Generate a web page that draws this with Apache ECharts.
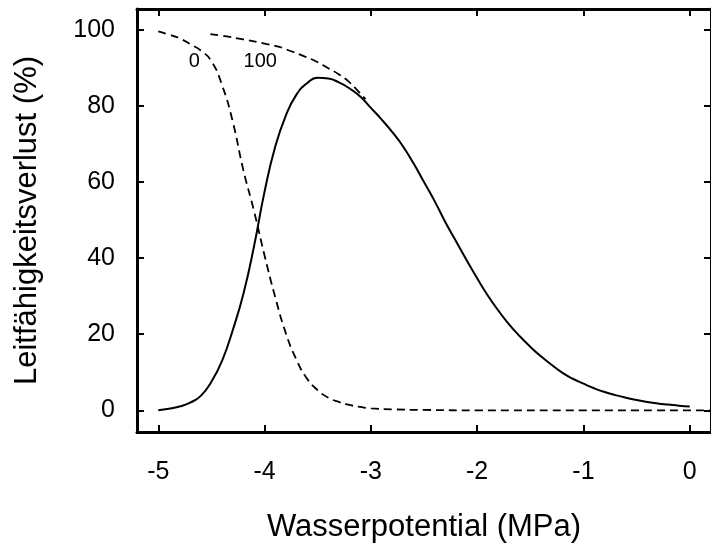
<!DOCTYPE html>
<html>
<head>
<meta charset="utf-8">
<script src="https://cdn.jsdelivr.net/npm/echarts@6/dist/echarts.min.js"></script>
<style>
    html, body { margin: 0; padding: 0; background: #fff; }
    #container { width: 711px; height: 548px; }
</style>
</head>
<body>
<div id="container"></div>
<script>
// Werte: [Wasserpotential (MPa), Verlust (%)]
var lossCurve = [
    [-5.0, 0], [-4.9, 0.4], [-4.8, 1.0], [-4.7, 2.0], [-4.6, 3.8],
    [-4.5, 7.5], [-4.4, 13], [-4.3, 21], [-4.2, 30.5], [-4.1, 43],
    [-4.0, 57.5], [-3.9, 69.3], [-3.8, 77.5], [-3.7, 83], [-3.6, 86],
    [-3.5, 87.4], [-3.4, 87.2], [-3.3, 86.2], [-3.2, 84.6], [-3.1, 82.5],
    [-3.0, 79.5], [-2.9, 76.5], [-2.8, 73.2], [-2.7, 69.5], [-2.6, 65],
    [-2.5, 60], [-2.4, 55], [-2.3, 49.5], [-2.2, 44.5], [-2.1, 39.5],
    [-2.0, 34.7], [-1.9, 30.2], [-1.8, 26.2], [-1.7, 22.6], [-1.6, 19.5],
    [-1.5, 16.7], [-1.4, 14.2], [-1.3, 12], [-1.2, 9.9], [-1.1, 8.3],
    [-1.0, 7], [-0.9, 5.8], [-0.8, 4.8], [-0.7, 4], [-0.6, 3.3],
    [-0.5, 2.7], [-0.4, 2.2], [-0.3, 1.8], [-0.2, 1.5], [-0.1, 1.2], [0, 1.0]
];
var curve0 = [
    [-5.0, 99.6], [-4.9, 98.8], [-4.8, 97.8], [-4.7, 96.3], [-4.6, 94.6],
    [-4.5, 91.8], [-4.4, 85.5], [-4.3, 76], [-4.2, 63.2], [-4.1, 52.5],
    [-4.0, 40.7], [-3.9, 29.8], [-3.8, 20.3], [-3.7, 13.3], [-3.6, 8.3],
    [-3.5, 5.3], [-3.4, 3.3], [-3.3, 2.2], [-3.2, 1.4], [-3.1, 0.9],
    [-3.0, 0.5], [-2.8, 0.25], [-2.5, 0.1], [-2.0, 0], [-1.0, 0], [0.2, 0]
];
var curve100 = [
    [-4.51, 98.9], [-4.4, 98.5], [-4.2, 97.5], [-4.0, 96.4], [-3.87, 95.6],
    [-3.75, 94.4], [-3.62, 93], [-3.5, 91.5], [-3.4, 89.9], [-3.3, 88.3],
    [-3.2, 86.2], [-3.12, 83.9], [-3.05, 81.8]
];
var curveLabels = [
    [-4.66, 91.6, '0'],
    [-4.04, 91.6, '100']
];
var xTicks = [-5, -4, -3, -2, -1, 0];
var yTicks = [0, 20, 40, 60, 80, 100];

(function(){
    var dom = document.getElementById("container");
    var myChart = echarts.init(dom, null, {renderer: 'canvas'});
    var font = 'Liberation Sans, Arial, sans-serif';

    var axisLine = {show: true, onZero: false, lineStyle: {color: '#000', width: 3}};
    var axisTick = {show: true, inside: true, length: 7, lineStyle: {color: '#000', width: 2}};

    var option = {
        animation: false,
        backgroundColor: '#fff',
        grid: {left: 137, right: -4, top: 9, bottom: 116},
        xAxis: [
            {
                type: 'value', min: -5.2, max: 0.2, position: 'bottom',
                axisLine: axisLine,
                axisTick: Object.assign({customValues: xTicks}, axisTick),
                axisLabel: {customValues: xTicks, color: '#000', fontSize: 25, fontFamily: font, margin: 28},
                splitLine: {show: false},
                name: 'Wasserpotential (MPa)', nameLocation: 'middle', nameGap: 80,
                nameTextStyle: {color: '#000', fontSize: 31, fontFamily: font}
            },
            {
                type: 'value', min: -5.2, max: 0.2, position: 'top',
                axisLine: axisLine,
                axisTick: Object.assign({customValues: xTicks}, axisTick),
                axisLabel: {show: false},
                splitLine: {show: false}
            }
        ],
        yAxis: [
            {
                type: 'value', min: -5.7, max: 105.5, position: 'left',
                axisLine: axisLine,
                axisTick: Object.assign({customValues: yTicks}, axisTick),
                axisLabel: {customValues: yTicks, color: '#000', fontSize: 25, fontFamily: font, margin: 22},
                splitLine: {show: false},
                name: 'Leitfähigkeitsverlust (%)', nameLocation: 'middle', nameGap: 94,
                nameTextStyle: {color: '#000', fontSize: 31, fontFamily: font}
            },
            {
                type: 'value', min: -5.7, max: 105.5, position: 'right',
                axisLine: axisLine,
                axisTick: Object.assign({customValues: yTicks}, axisTick),
                axisLabel: {show: false},
                splitLine: {show: false}
            }
        ],
        series: [
            {
                type: 'line', data: curve0, smooth: 0.5, showSymbol: false,
                lineStyle: {color: '#000', width: 1.8, type: [8, 5]}
            },
            {
                type: 'line', data: curve100, smooth: 0.5, showSymbol: false,
                lineStyle: {color: '#000', width: 1.8, type: [8, 5]}
            },
            {
                type: 'line', data: lossCurve, smooth: 0.5, showSymbol: false,
                lineStyle: {color: '#000', width: 2}
            },
            {
                type: 'scatter', data: curveLabels, symbolSize: 0,
                itemStyle: {color: '#000', opacity: 1},
                label: {
                    show: true, position: 'inside', color: '#000', fontSize: 20, fontFamily: font,
                    textBorderWidth: 0,
                    formatter: function(p){ return p.data[2]; }
                }
            }
        ]
    };
    myChart.setOption(option, true);
})();
</script>
</body>
</html>
